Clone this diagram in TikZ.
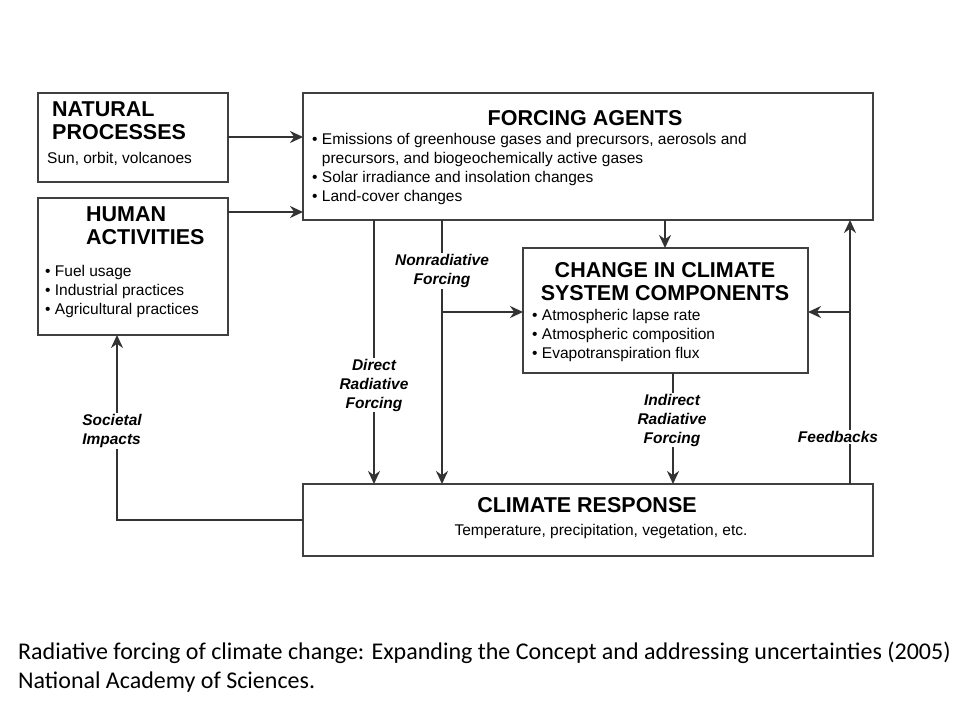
\documentclass[tikz,border=0pt]{standalone}
\usepackage{fontspec}
\setmainfont{Liberation Sans}
\newfontfamily\capfont{Carlito}
\usetikzlibrary{arrows.meta}
\begin{document}
\begin{tikzpicture}[x=1pt,y=-1pt,
  box/.style={draw=black!75,line width=1.6pt,fill=white},
  arr/.style={line width=2pt,draw=black!80,-{Stealth[length=13pt,width=12pt]}},
  lab/.style={fill=white,font=\bfseries\itshape\fontsize{15.5}{19}\selectfont,align=center,inner sep=1pt},
  hd/.style={font=\bfseries\fontsize{21.5}{23}\selectfont},
  bl/.style={font=\fontsize{15.5}{19}\selectfont,align=left}]
\useasboundingbox (0,0) rectangle (960,720);
\fill[white] (0,0) rectangle (960,720);
% boxes
\draw[box] (38,93) rectangle (228,182);
\node[anchor=north west,align=left,hd,inner sep=0] (nat) at (52,102) {NATURAL\\PROCESSES};
\node[anchor=north west,bl,inner sep=0] (natt) at (47,152) {Sun, orbit, volcanoes};
\draw[box] (38,198) rectangle (228,335);
\node[anchor=north west,align=left,hd,inner sep=0] (hum) at (86,207) {HUMAN\\ACTIVITIES};
\node[anchor=north west,bl,inner sep=0] (humt) at (45,265) {\textbullet\ Fuel usage\\\textbullet\ Industrial practices\\\textbullet\ Agricultural practices};
\draw[box] (303,93) rectangle (873,220);
\node[hd,inner sep=0] (fa) at (585,118) {FORCING AGENTS};
\node[anchor=north west,bl,inner sep=0] (fat) at (312,133) {\textbullet\ Emissions of greenhouse gases and precursors, aerosols and\\\phantom{\textbullet\ }precursors, and biogeochemically active gases\\\textbullet\ Solar irradiance and insolation changes\\\textbullet\ Land-cover changes};
\draw[box] (523,248) rectangle (808,373);
\node[hd,align=center,inner sep=0] (cc) at (665,282) {CHANGE IN CLIMATE\\SYSTEM COMPONENTS};
\node[anchor=north west,bl,inner sep=0] (cct) at (532,309) {\textbullet\ Atmospheric lapse rate\\\textbullet\ Atmospheric composition\\\textbullet\ Evapotranspiration flux};
\draw[box] (303,484) rectangle (873,556);
\node[hd,inner sep=0] (cr) at (587,505) {CLIMATE RESPONSE};
\node[bl,inner sep=0] (crt) at (601,531) {Temperature, precipitation, vegetation, etc.};
% coordinates
\coordinate (n1) at (228,137); \coordinate (n2) at (303,137);
\coordinate (h1) at (228,212); \coordinate (h2) at (303,212);
\coordinate (f1) at (665,220); \coordinate (f2) at (665,248);
\coordinate (d1) at (374,220); \coordinate (d2) at (374,484);
\coordinate (r1) at (442,220); \coordinate (r2) at (442,484);
\coordinate (r3) at (442,312); \coordinate (r4) at (523,312);
\coordinate (i1) at (673,373); \coordinate (i2) at (673,484);
\coordinate (b1) at (850,484); \coordinate (b2) at (850,220);
\coordinate (b3) at (850,312); \coordinate (b4) at (808,312);
\coordinate (s1) at (303,520); \coordinate (s2) at (117,520); \coordinate (s3) at (117,335);
\draw[arr] (n1) -- (n2);
\draw[arr] (h1) -- (h2);
\draw[arr] (f1) -- (f2);
\draw[arr] (d1) -- (d2);
\draw[arr] (r1) -- (r2);
\draw[arr] (r3) -- (r4);
\draw[arr] (i1) -- (i2);
\draw[arr] (b1) -- (b2);
\draw[arr] (b3) -- (b4);
\draw[arr] (s1) -- (s2) -- (s3);
% labels
\node[lab] (ld) at (374,385) {Direct\\Radiative\\Forcing};
\node[lab] (ln) at (442,271) {Nonradiative\\Forcing};
\node[lab] (li) at (672,420) {Indirect\\Radiative\\Forcing};
\node[lab] (lf) at (838,437) {Feedbacks};
\node[lab,align=left] (ls) at (112,431) {Societal\\Impacts};
% caption
\node[anchor=west,font=\capfont\fontsize{24}{28}\selectfont,inner sep=0] (c1) at (18,653) {Radiative forcing of climate change: Expanding the Concept and addressing uncertainties (2005)};
\node[anchor=west,font=\capfont\fontsize{24}{28}\selectfont,inner sep=0] (c2) at (18,682) {National Academy of Sciences.};
\end{tikzpicture}
\end{document}
